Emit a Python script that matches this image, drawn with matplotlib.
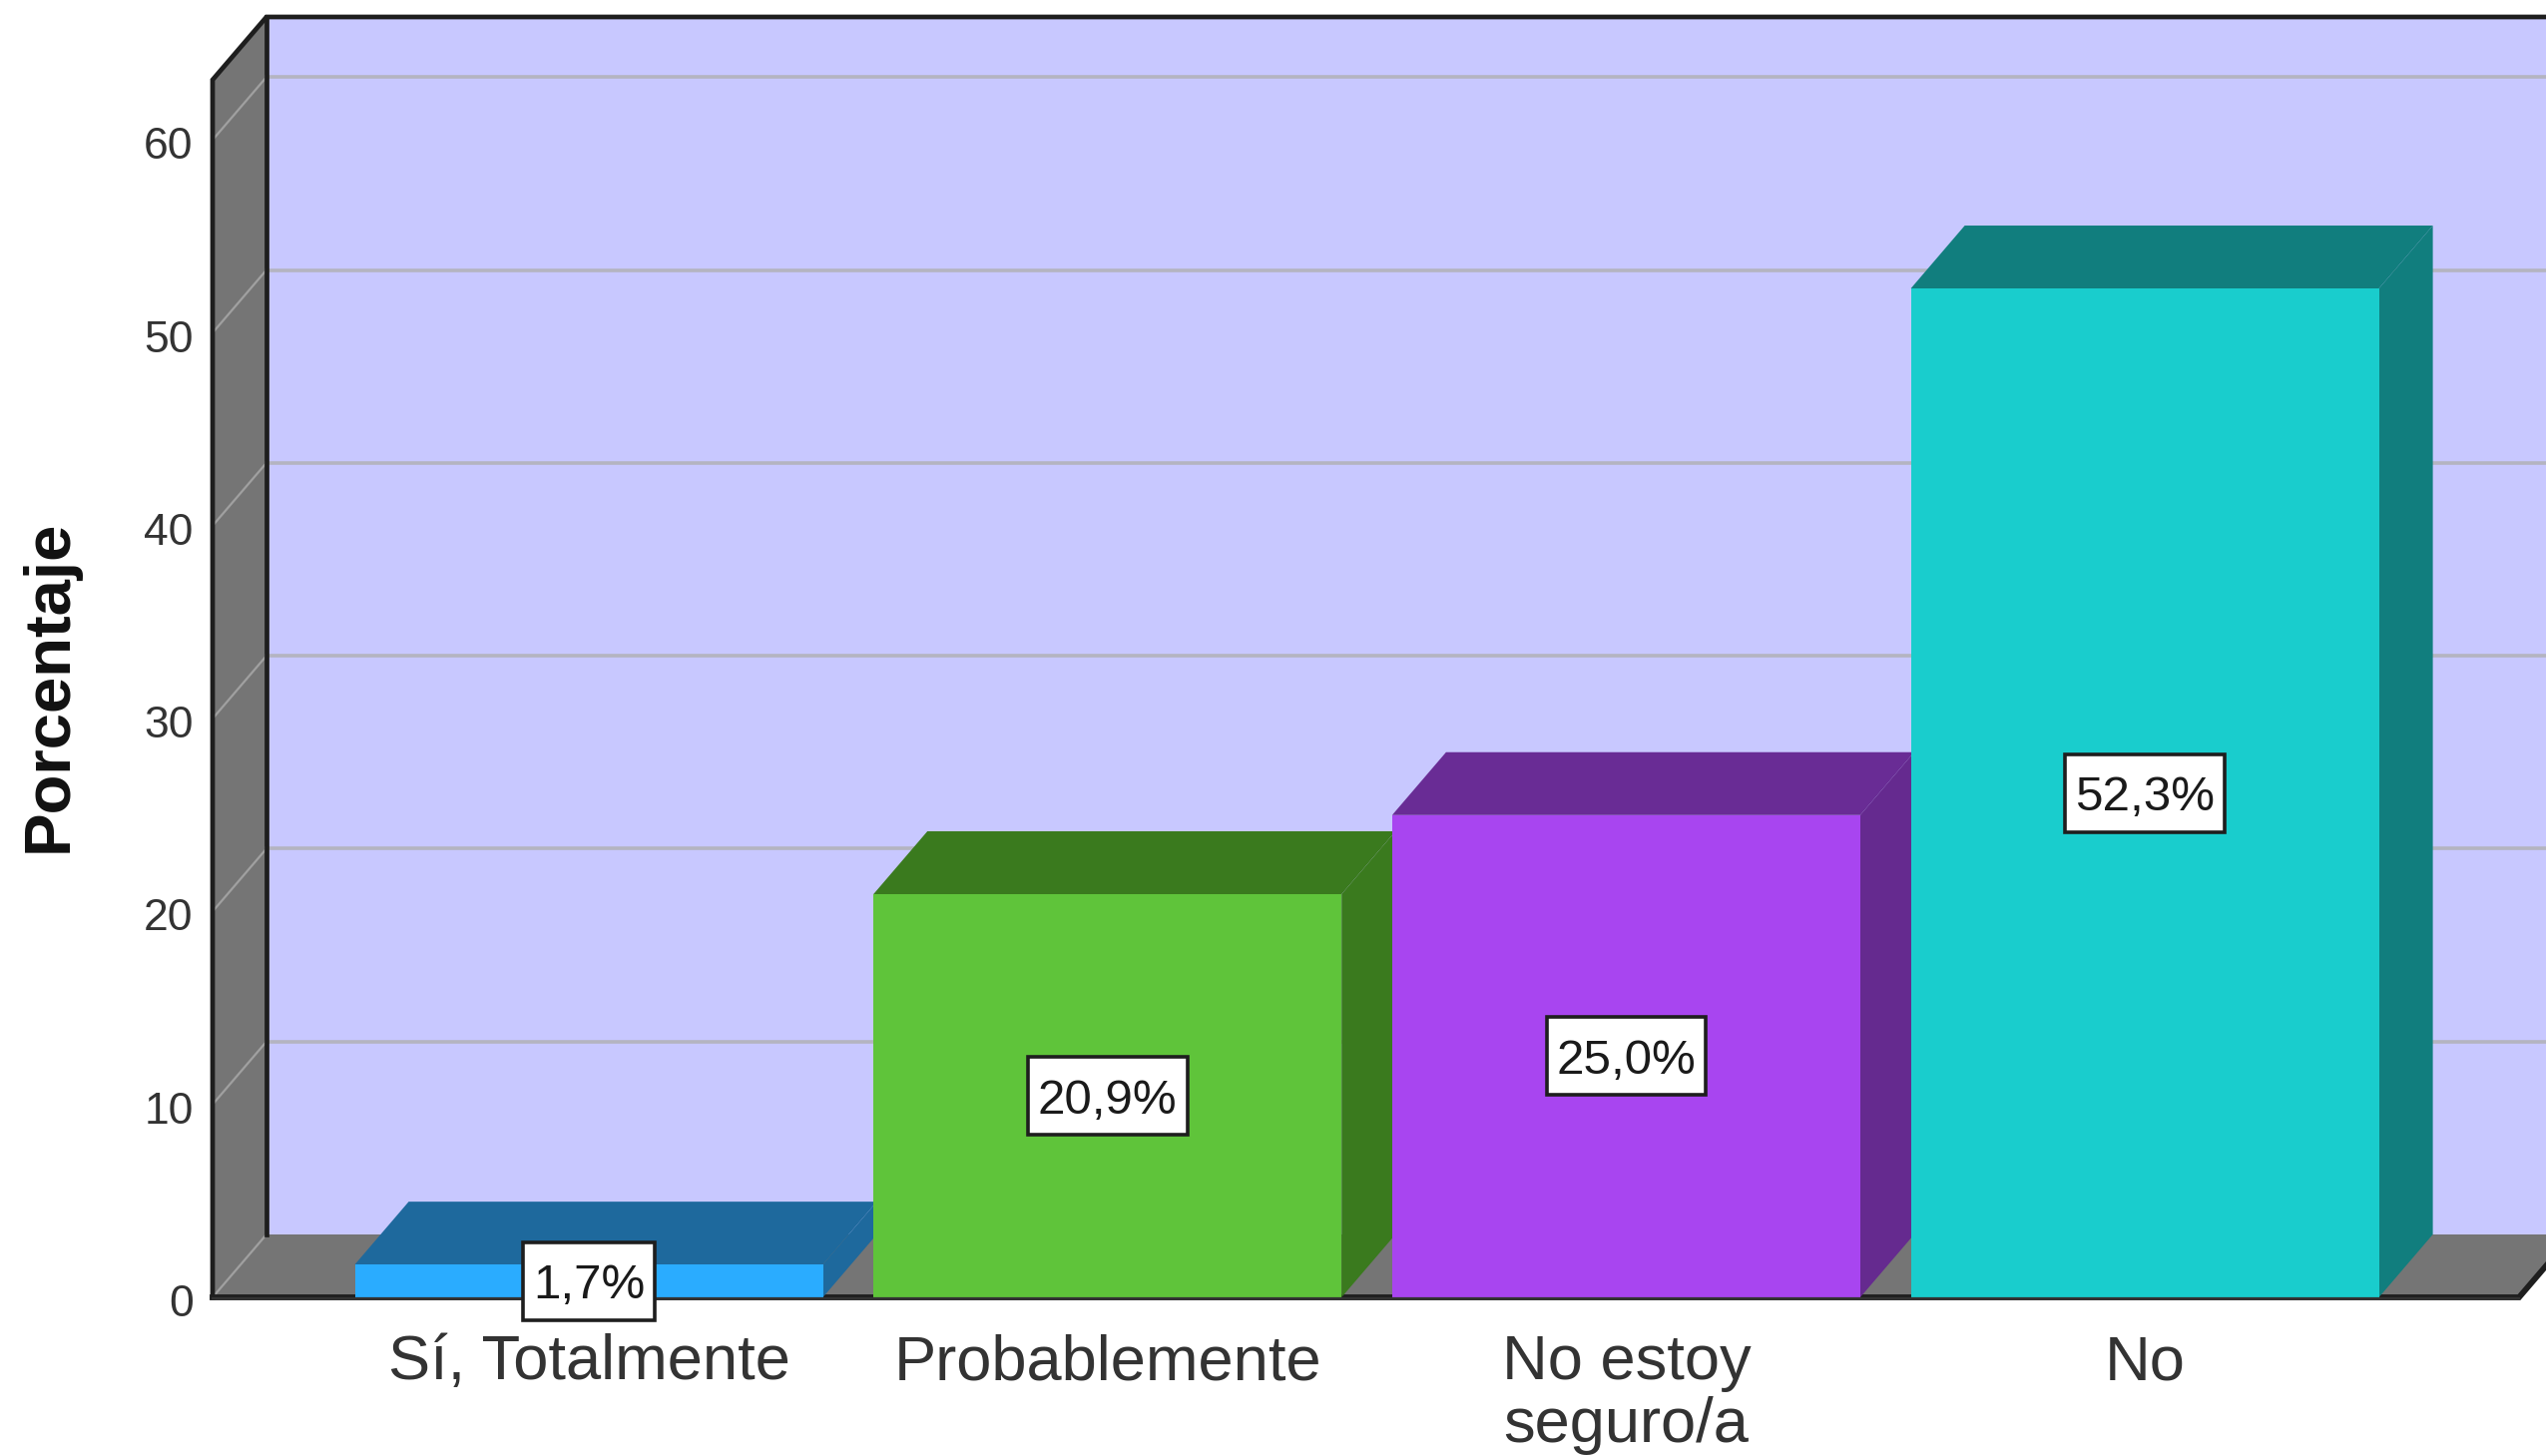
import matplotlib
matplotlib.use("Agg")
import matplotlib.pyplot as plt
from matplotlib.patches import Polygon, Rectangle
from matplotlib.transforms import ScaledTranslation

plt.rcParams['font.family'] = ['Liberation Sans', 'DejaVu Sans']

categories = ["Sí, Totalmente", "Probablemente", "No estoy\nseguro/a", "No"]
values = [1.7, 20.9, 25.0, 52.3]
value_labels = ["1,7%", "20,9%", "25,0%", "52,3%"]
y_ticks = [0, 10, 20, 30, 40, 50, 60]
front_colors = ["#2AACFF", "#5FC43A", "#A845F0", "#19CDCD"]
top_colors = ["#1E699D", "#3A7A1E", "#692C95", "#117E7E"]
side_colors = ["#1E699D", "#3A7A1E", "#652A8F", "#117E7E"]

W, H = 2551, 1459
fig = plt.figure(figsize=(W / 100, H / 100), dpi=100, facecolor="white")
left, right, bottom, top = 213, 2524, 1300, 80
ax = fig.add_axes([left / W, 1 - bottom / H, (right - left) / W, (bottom - top) / H])

spacing = 519.7
px_y = 19.33
ax.set_xlim((left - 590) / spacing, (right - 590) / spacing)
ax.set_ylim(0, (bottom - top) / px_y)
x0, x1 = ax.get_xlim()
y1 = ax.get_ylim()[1]
dx = 54 / spacing
dy = 63 / px_y
bar_w = 469 / spacing

for s in ax.spines.values():
    s.set_visible(False)
ax.patch.set_visible(False)


def poly(pts, **kw):
    kw.setdefault("linewidth", 0)
    ax.add_patch(Polygon(pts, closed=True, clip_on=False, **kw))


# back wall, floor, left wall
poly([(x0 + dx, dy), (x1 + dx, dy), (x1 + dx, y1 + dy), (x0 + dx, y1 + dy)],
     facecolor="#C8C8FF", zorder=1)
poly([(x0, 0), (x1, 0), (x1 + dx, dy), (x0 + dx, dy)], facecolor="#757575", zorder=1.2)
poly([(x0, 0), (x0 + dx, dy), (x0 + dx, y1 + dy), (x0, y1)], facecolor="#757575", zorder=1.2)

# grid on the back wall and the left wall
for t in y_ticks[1:]:
    ax.plot([x0 + dx, x1 + dx], [t + dy, t + dy], color="#B4B4C0", lw=2.6, zorder=1.5, clip_on=False)
for t in y_ticks:
    ax.plot([x0, x0 + dx], [t, t + dy], color="#A0A0A0", lw=1.6, zorder=1.5, clip_on=False)

# frame
frame = dict(color="#1E1E1E", lw=3.4, zorder=2, clip_on=False, solid_joinstyle="miter")
ax.plot([x0, x0, x0 + dx, x1 + dx], [0, y1, y1 + dy, y1 + dy], **frame)
ax.plot([x0 + dx, x0 + dx], [dy, y1 + dy], **frame)
ax.plot([x0, x1, x1 + dx], [0, 0, dy], **{**frame, "lw": 4.2})

# bars, drawn left to right so each one covers the side of the previous
for i, (v, fc, tc, sc) in enumerate(zip(values, front_colors, top_colors, side_colors)):
    z = 3 + i
    a, b = i - bar_w / 2, i + bar_w / 2
    poly([(a, v), (b, v), (b + dx, v + dy), (a + dx, v + dy)], facecolor=tc, zorder=z)
    poly([(b, 0), (b + dx, dy), (b + dx, v + dy), (b, v)], facecolor=sc, zorder=z)
    ax.bar([i], [v], width=bar_w, color=fc, linewidth=0, zorder=z + 0.1)

# thin dark edge under the bars
ax.plot([x0, x1], [-0.05, -0.05], color="#333333", lw=1.6, zorder=8, clip_on=False)

# value labels: box sized from the text width plus a fixed margin
renderer = fig.canvas.get_renderer()
for i, (v, lab) in enumerate(zip(values, value_labels)):
    txt = ax.text(i, v / 2, lab, ha="center", va="center_baseline", fontsize=35.5, color="#1A1A1A",
                  zorder=10, clip_on=False)
    w_px = txt.get_window_extent(renderer).width + 20
    h_px = 78
    ax.add_patch(Rectangle((i - w_px / 2 / spacing, v / 2 - h_px / 2 / px_y),
                           w_px / spacing, h_px / px_y, facecolor="white", edgecolor="#1E1E1E",
                           linewidth=2.6, zorder=9, clip_on=False))

ax.set_yticks(y_ticks)
ax.set_yticklabels([str(t) for t in y_ticks], fontsize=32, color="#333333")
ax.tick_params(axis="y", length=0, pad=14)
shift = ScaledTranslation(0, -3 / 100, fig.dpi_scale_trans)
for lab in ax.get_yticklabels():
    lab.set_transform(lab.get_transform() + shift)

ax.set_xticks(range(len(categories)))
ax.set_xticklabels(categories, fontsize=45.5, color="#333333", linespacing=1.08)
ax.tick_params(axis="x", length=0, pad=26)

ax.set_ylabel("Porcentaje", fontsize=47, fontweight="bold", color="#111111")
ax.yaxis.set_label_coords((80 - left) / (right - left), (bottom - 687) / (bottom - top), transform=ax.transAxes)

fig.savefig("out.png", dpi=100, facecolor="white")
